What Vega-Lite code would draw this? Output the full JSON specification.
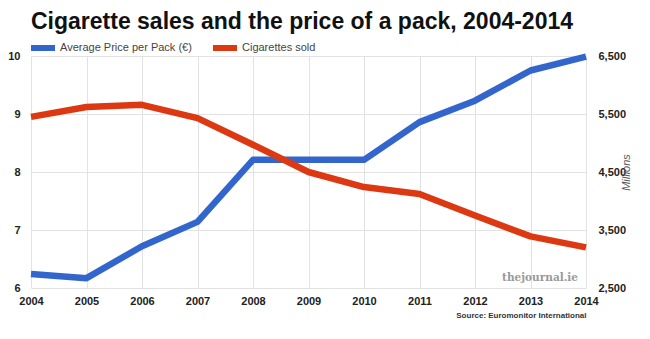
{
  "$schema": "https://vega.github.io/schema/vega-lite/v6.json",
  "width": 555,
  "height": 232,
  "autosize": {"type": "none"},
  "padding": {"left": 31, "top": 56, "right": 64, "bottom": 51},
  "background": "white",
  "title": {
    "text": "Cigarette sales and the price of a pack, 2004-2014",
    "anchor": "start",
    "frame": "group",
    "font": "Liberation Sans",
    "fontSize": 23,
    "fontWeight": "bold",
    "color": "#111111",
    "offset": 2,
    "dy": 3
  },
  "data": {
    "values": [
      {"year": 2004, "price": 6.24, "sold": 5450},
      {"year": 2005, "price": 6.17, "sold": 5620},
      {"year": 2006, "price": 6.72, "sold": 5658},
      {"year": 2007, "price": 7.14, "sold": 5430},
      {"year": 2008, "price": 8.21, "sold": 4970},
      {"year": 2009, "price": 8.21, "sold": 4500},
      {"year": 2010, "price": 8.21, "sold": 4240},
      {"year": 2011, "price": 8.86, "sold": 4120},
      {"year": 2012, "price": 9.23, "sold": 3750},
      {"year": 2013, "price": 9.75, "sold": 3390},
      {"year": 2014, "price": 9.99, "sold": 3200}
    ]
  },
  "layer": [
    {
      "mark": {"type": "line", "strokeWidth": 6.5, "strokeJoin": "round", "strokeCap": "butt"},
      "encoding": {
        "x": {
          "field": "year",
          "type": "quantitative",
          "scale": {"domain": [2004, 2014], "nice": false, "zero": false},
          "axis": {
            "values": [2004, 2005, 2006, 2007, 2008, 2009, 2010, 2011, 2012, 2013, 2014],
            "format": "d",
            "grid": true,
            "labelPadding": 7,
            "labelFlush": false,
            "title": "Source: Euromonitor International",
            "titleAnchor": "end",
            "titleFontSize": 8,
            "titleFontWeight": "bold",
            "titleColor": "#333333",
            "titlePadding": 5
          }
        },
        "y": {
          "field": "price",
          "type": "quantitative",
          "scale": {"domain": [6, 10], "nice": false, "zero": false},
          "axis": {
            "orient": "left",
            "values": [6, 7, 8, 9, 10],
            "format": "d",
            "grid": true,
            "labelPadding": 11,
            "title": null
          }
        },
        "color": {
          "datum": "Average Price per Pack (€)",
          "type": "nominal",
          "scale": {
            "domain": ["Average Price per Pack (€)", "Cigarettes sold"],
            "range": ["#3366cc", "#dc3912"]
          },
          "legend": {"title": null}
        }
      }
    },
    {
      "mark": {"type": "line", "strokeWidth": 6.5, "strokeJoin": "round", "strokeCap": "butt"},
      "encoding": {
        "x": {"field": "year", "type": "quantitative"},
        "y": {
          "field": "sold",
          "type": "quantitative",
          "scale": {"domain": [2500, 6500], "nice": false, "zero": false},
          "axis": {
            "orient": "right",
            "values": [2500, 3500, 4500, 5500, 6500],
            "format": ",d",
            "grid": false,
            "labelPadding": 12,
            "title": "Millions",
            "titleAngle": 270,
            "titleFontStyle": "italic",
            "titleFontWeight": "normal",
            "titleFontSize": 11,
            "titleColor": "#555555",
            "titlePadding": 6
          }
        },
        "color": {"datum": "Cigarettes sold", "type": "nominal"}
      }
    },
    {
      "data": {"values": [{"note": "thejournal.ie", "year": 2014, "price": 6.17}]},
      "mark": {"type": "text", "align": "right", "baseline": "middle", "dx": -8, "font": "DejaVu Serif", "fontSize": 10.5, "fontWeight": "bold", "color": "#999999"},
      "encoding": {
        "x": {"field": "year", "type": "quantitative"},
        "y": {"field": "price", "type": "quantitative", "scale": {"domain": [6, 10], "nice": false, "zero": false}, "axis": null},
        "text": {"field": "note"}
      }
    }
  ],
  "resolve": {"scale": {"y": "independent"}},
  "config": {
    "view": {"stroke": null},
    "axis": {
      "labelFont": "Liberation Sans",
      "labelFontSize": 11,
      "labelFontWeight": "bold",
      "labelColor": "#222222",
      "titleFont": "Liberation Sans",
      "gridColor": "#e2e2e2",
      "gridWidth": 1,
      "domain": false,
      "ticks": false
    },
    "axisY": {"labelBaseline": "middle"},
    "legend": {
      "orient": "none",
      "legendX": -3,
      "legendY": -23,
      "direction": "horizontal",
      "symbolType": "stroke",
      "symbolSize": 576,
      "symbolStrokeWidth": 6,
      "labelFont": "Liberation Sans",
      "labelFontSize": 11,
      "labelColor": "#444444",
      "labelOffset": 2,
      "columnPadding": 9,
      "padding": 0
    }
  }
}
